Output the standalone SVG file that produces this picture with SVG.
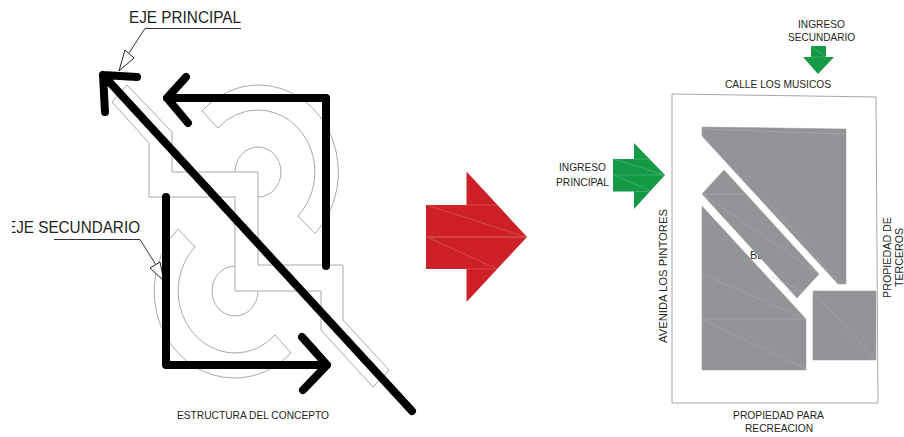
<svg xmlns="http://www.w3.org/2000/svg" width="904" height="437" viewBox="0 0 904 437">
<defs><clipPath id="cs"><rect x="12" y="210" width="140" height="30"/></clipPath></defs>
<style>
text{font-family:"Liberation Sans",Arial,sans-serif;fill:#231f20;font-size:11px}
.big{font-size:17px}
.o{fill:none;stroke:#a9a9a9;stroke-width:1}
.k{fill:none;stroke:#000;stroke-width:8;stroke-linecap:round;stroke-linejoin:round}
.l{fill:none;stroke:#333;stroke-width:1}
.h{fill:#fff;stroke:#222;stroke-width:1}
.g{fill:#929497;stroke:#9a9a9c;stroke-width:.5}
.gl{fill:none;stroke:#b0b1b3;stroke-width:.5}
.r{fill:#cd2027}.rl{fill:none;stroke:#dc5a5f;stroke-width:.7}
.v{fill:#149a45}.vl{fill:none;stroke:#4fb576;stroke-width:.7}
</style>
<g id="concepto-planta">
<path class="o" d="M127 85L172 132V172H258V265H343V320L389 370L373 387L321 330V291H235V197H149V143L112 102Z"/>
<path class="o" d="M235 172A23 25 0 1 1 258 197"/>
<path class="o" d="M218 128A57 62 0 0 1 258 110A57 62 0 0 1 298 216L315 233.500A80 87 0 0 0 258 85A80 87 0 0 0 202 111Z"/>
<path class="o" d="M235 266A23 25 0 1 0 258 291"/>
<path class="o" d="M195 247A57 62 0 0 0 235 353A57 62 0 0 0 275 335L291 353A80 87 0 0 1 235 378A80 87 0 0 1 178 229Z"/>
</g>
<g id="connectors">
<path class="l" d="M241 28.500H145L129 53" stroke-width="1.200"/>
<path class="h" d="M119 71L125 50L134 58Z"/>
<path class="l" d="M54 239.500H140L156 265"/>
<path class="h" d="M164 281L150 268L160 262Z"/>
<path class="k" d="M412 411L103 75M137 77L103 75L105 112"/>
<path class="k" d="M326 266V98H167M186 77L167 98L188 123"/>
<path class="k" d="M166 197V365H327M302 337L327 365L303 390"/>
</g>
<g id="eje-principal"><text class="big" x="129" y="22.500" textLength="112" lengthAdjust="spacingAndGlyphs">EJE PRINCIPAL</text></g>
<g id="eje-secundario"><text class="big" x="6" y="232.500" clip-path="url(#cs)" textLength="134" lengthAdjust="spacingAndGlyphs">EJE SECUNDARIO</text></g>
<g id="estructura"><text x="177" y="419" textLength="152" lengthAdjust="spacingAndGlyphs">ESTRUCTURA DEL CONCEPTO</text></g>
<g id="flecha-roja">
<path class="r" d="M426 205H466.500V171.500L527 237L466.500 302V269H426Z"/>
<path class="rl" d="M427 205L526 237L427 237H526M427 237L497 269M467 205H497M467 269H497"/>
</g>
<g id="ingreso-principal">
<path class="v" d="M613 159H634V143L665 175L634 209V191.500H613Z"/>
<path class="vl" d="M614 159L664 175H614L651 191M635 159H650M635 191.500H650"/>
<text x="559" y="171" textLength="47" lengthAdjust="spacingAndGlyphs">INGRESO</text><text x="556" y="186" textLength="53" lengthAdjust="spacingAndGlyphs">PRINCIPAL</text>
</g>
<g id="ingreso-secundario">
<path class="v" d="M811 46H826V57H834L818 74L803 57H811Z"/>
<path class="vl" d="M811 46L826 57H811"/>
<text x="798" y="28" textLength="47" lengthAdjust="spacingAndGlyphs">INGRESO</text><text x="788" y="41" textLength="67" lengthAdjust="spacingAndGlyphs">SECUNDARIO</text>
</g>
<g id="calle"><text x="725" y="88" textLength="106" lengthAdjust="spacingAndGlyphs">CALLE LOS MUSICOS</text></g>
<g id="terreno">
<path d="M672 94L876 97L878 403H672Z" fill="none" stroke="#a8a8a8" stroke-width="1"/>
<text x="750" y="259">BL</text>
<path class="g" d="M702 127L846 129V284H838L702 136Z"/>
<path class="gl" d="M702 129L846 134M767 200L840 284"/>
<path class="g" d="M724 170L819 274L797 298L702 194Z"/>
<path class="gl" d="M702 194H745M702 194L819 274M772 277L802 291H787"/>
<path class="g" d="M702 206L806 319V370H702Z"/>
<path class="gl" d="M702 274L806 319H702L806 369"/>
<path class="g" d="M813 291H876V360H813Z"/>
<path class="gl" d="M813 291L876 360"/>
</g>
<g id="avenida"><text transform="translate(667 343) rotate(-90)" textLength="134" lengthAdjust="spacingAndGlyphs">AVENIDA LOS PINTORES</text></g>
<g id="terceros"><text transform="translate(891 298) rotate(-90)" textLength="81" lengthAdjust="spacingAndGlyphs">PROPIEDAD DE</text><text transform="translate(902.500 287) rotate(-90)" textLength="59" lengthAdjust="spacingAndGlyphs">TERCEROS</text></g>
<g id="recreacion"><text x="733" y="419" textLength="91" lengthAdjust="spacingAndGlyphs">PROPIEDAD PARA</text><text x="745" y="432" textLength="68" lengthAdjust="spacingAndGlyphs">RECREACION</text></g>
</svg>
